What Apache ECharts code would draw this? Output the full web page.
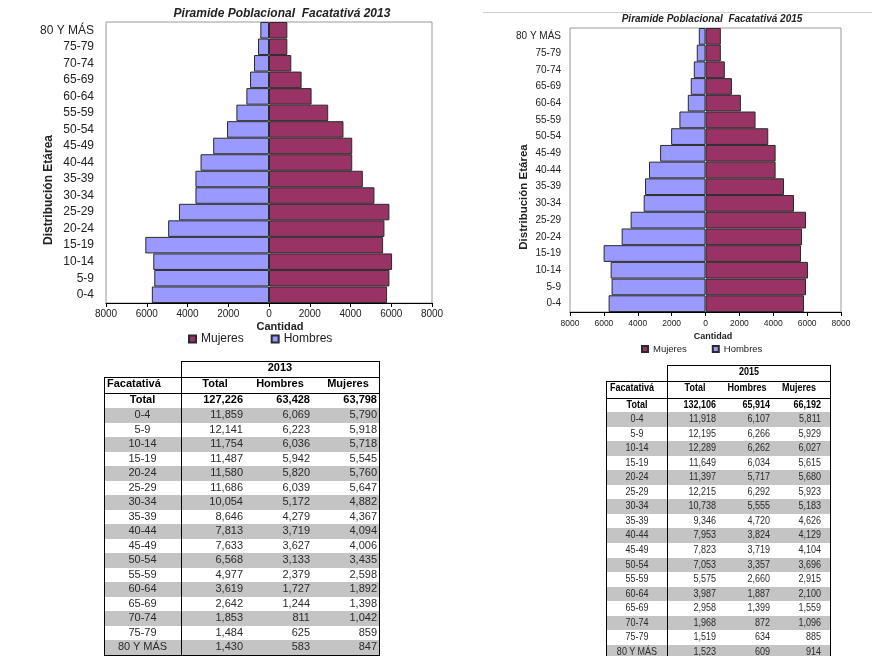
<!DOCTYPE html>
<html>
<head>
<meta charset="utf-8">
<script src="https://cdn.jsdelivr.net/npm/echarts@6/dist/echarts.min.js"></script>
<style>
  html, body { margin: 0; padding: 0; background: #fff; }
  #wrap { position: relative; width: 872px; height: 656px; overflow: hidden; }
  #chart { position: absolute; left: 0; top: 0; width: 872px; height: 656px; }
  #tables { position: absolute; left: 0; top: 0; width: 872px; height: 656px; }
  .t { position: absolute; white-space: nowrap; }
  .ln { position: absolute; background: #000; }
  .gr { position: absolute; background: #c4c4c4; }
</style>
</head>
<body>
<div id="wrap">
  <div id="chart"></div>
  <div id="tables"></div>
</div>
<script>
// ---------- Data ----------
const categories = ['0-4','5-9','10-14','15-19','20-24','25-29','30-34','35-39','40-44','45-49','50-54','55-59','60-64','65-69','70-74','75-79','80 Y MÁS'];

// Pyramid bar values
const hombres2013 = [5750, 5630, 5680, 6070, 4950, 4420, 3610, 3610, 3360, 2740, 2060, 1600, 1110, 930, 735, 540, 425];
const mujeres2013 = [5795, 5910, 6040, 5600, 5665, 5910, 5175, 4605, 4085, 4085, 3655, 2905, 2090, 1600, 1095, 900, 900];
const hombres2015 = [5720, 5545, 5600, 6015, 4950, 4420, 3650, 3570, 3335, 2680, 2030, 1540, 1045, 870, 690, 515, 395];
const mujeres2015 = [5815, 5935, 6050, 5640, 5700, 5935, 5225, 4635, 4140, 4140, 3705, 2955, 2090, 1560, 1140, 905, 905];

const axisTicks = [-8000, -6000, -4000, -2000, 0, 2000, 4000, 6000, 8000];

// Table values
const tablaHeader = ['Facatativá', 'Total', 'Hombres', 'Mujeres'];
const totales2013 = [127226, 63428, 63798];
const total2013 = [11859, 12141, 11754, 11487, 11580, 11686, 10054, 8646, 7813, 7633, 6568, 4977, 3619, 2642, 1853, 1484, 1430];
const tabHombres2013 = [6069, 6223, 6036, 5942, 5820, 6039, 5172, 4279, 3719, 3627, 3133, 2379, 1727, 1244, 811, 625, 583];
const tabMujeres2013 = [5790, 5918, 5718, 5545, 5760, 5647, 4882, 4367, 4094, 4006, 3435, 2598, 1892, 1398, 1042, 859, 847];
const totales2015 = [132106, 65914, 66192];
const total2015 = [11918, 12195, 12289, 11649, 11397, 12215, 10738, 9346, 7953, 7823, 7053, 5575, 3987, 2958, 1968, 1519, 1523];
const tabHombres2015 = [6107, 6266, 6262, 6034, 5717, 6292, 5555, 4720, 3824, 3719, 3357, 2660, 1887, 1399, 872, 634, 609];
const tabMujeres2015 = [5811, 5929, 6027, 5615, 5680, 5923, 5183, 4626, 4129, 4104, 3696, 2915, 2100, 1559, 1096, 885, 914];

// ---------- Chart ----------
const FONT = '"Liberation Sans", Arial, sans-serif';
const cMuj = '#993366', cHom = '#9999FF';

function xAx(gi, fs, margin) {
  return {
    gridIndex: gi, type: 'value', min: axisTicks[0], max: axisTicks[axisTicks.length - 1], interval: 2000,
    axisLine: { show: true, onZero: false, lineStyle: { color: '#000', width: 1 } },
    axisTick: { show: true, length: 4, lineStyle: { color: '#000' } },
    axisLabel: { formatter: v => String(Math.abs(v)), fontSize: fs, color: '#222', margin: margin, fontFamily: FONT },
    splitLine: { show: false }
  };
}
function yAx(gi, fs, margin) {
  return {
    gridIndex: gi, type: 'category', data: categories,
    axisLine: { show: false }, axisTick: { show: false },
    axisLabel: { fontSize: fs, color: '#222', margin: margin, fontFamily: FONT },
    splitLine: { show: false }
  };
}
function barSeries(name, data, color, gi, stack, negate) {
  return {
    name: name, type: 'bar', xAxisIndex: gi, yAxisIndex: gi, stack: stack,
    data: negate ? data.map(v => -v) : data,
    barCategoryGap: '0%',
    itemStyle: { color: color, borderColor: '#2a2a2a', borderWidth: 1 },
    emphasis: { disabled: true }, animation: false
  };
}

const chart = echarts.init(document.getElementById('chart'), null, { renderer: 'canvas' });
chart.setOption({
  backgroundColor: '#fff',
  animation: false,
  textStyle: { fontFamily: FONT },
  title: [
    { text: 'Piramide Poblacional  Facatativá 2013', left: 282, top: 8, textAlign: 'center', padding: 0,
      textStyle: { fontSize: 12, fontStyle: 'italic', fontWeight: 'bold', color: '#222', fontFamily: FONT } },
    { text: 'Piramide Poblacional  Facatativá 2015', left: 712, top: 14, textAlign: 'center', padding: 0,
      textStyle: { fontSize: 10, fontStyle: 'italic', fontWeight: 'bold', color: '#222', fontFamily: FONT } }
  ],
  legend: [
    { data: ['Mujeres', 'Hombres'], left: 188, top: 333, padding: 0, icon: 'rect', itemWidth: 7, itemHeight: 7, itemGap: 27,
      textStyle: { fontSize: 12, color: '#222', fontFamily: FONT }, selectedMode: false },
    { data: ['Mujeres', 'Hombres'], left: 641, top: 344, padding: 0, icon: 'rect', itemWidth: 6, itemHeight: 6, itemGap: 25,
      textStyle: { fontSize: 9.5, color: '#222', fontFamily: FONT }, selectedMode: false }
  ],
  grid: [
    { left: 106, top: 22, width: 326, height: 281, show: true, borderColor: '#999', borderWidth: 1, backgroundColor: '#fff' },
    { left: 570, top: 28, width: 271, height: 284, show: true, borderColor: '#999', borderWidth: 1, backgroundColor: '#fff' }
  ],
  xAxis: [xAx(0, 10, 6), xAx(1, 8.5, 7)],
  yAxis: [yAx(0, 12, 12), yAx(1, 10, 9)],
  series: [
    barSeries('Hombres', hombres2013, cHom, 0, 'p2013', true),
    barSeries('Mujeres', mujeres2013, cMuj, 0, 'p2013', false),
    barSeries('Hombres', hombres2015, cHom, 1, 'p2015', true),
    barSeries('Mujeres', mujeres2015, cMuj, 1, 'p2015', false)
  ],
  graphic: [
    { type: 'text', x: 49, y: 190, rotation: Math.PI / 2,
      style: { text: 'Distribución Etárea', font: 'bold 12px "Liberation Sans", Arial, sans-serif', fill: '#222',
               align: 'center', verticalAlign: 'middle', textAlign: 'center', textVerticalAlign: 'middle' } },
    { type: 'text', x: 524, y: 197, rotation: Math.PI / 2,
      style: { text: 'Distribución Etárea', font: 'bold 11.5px "Liberation Sans", Arial, sans-serif', fill: '#222',
               align: 'center', verticalAlign: 'middle', textAlign: 'center', textVerticalAlign: 'middle' } },
    { type: 'text', x: 280, y: 327,
      style: { text: 'Cantidad', font: 'bold 11px "Liberation Sans", Arial, sans-serif', fill: '#222',
               align: 'center', verticalAlign: 'middle', textAlign: 'center', textVerticalAlign: 'middle' } },
    { type: 'text', x: 713, y: 337,
      style: { text: 'Cantidad', font: 'bold 9px "Liberation Sans", Arial, sans-serif', fill: '#222',
               align: 'center', verticalAlign: 'middle', textAlign: 'center', textVerticalAlign: 'middle' } },
    { type: 'line', shape: { x1: 483, y1: 12.5, x2: 872, y2: 12.5 }, style: { stroke: '#cfcfcf', lineWidth: 1 } }
  ]
});

// ---------- Tables ----------
const root = document.getElementById('tables');
const fmt = v => v.toLocaleString('en-US');

function line(x, y, w, h) {
  const d = document.createElement('div'); d.className = 'ln';
  Object.assign(d.style, { left: x + 'px', top: y + 'px', width: w + 'px', height: h + 'px' });
  root.appendChild(d);
}
function rect(x, y, w, h) {
  const d = document.createElement('div'); d.className = 'gr';
  Object.assign(d.style, { left: x + 'px', top: y + 'px', width: w + 'px', height: h + 'px' });
  root.appendChild(d);
}
function text(txt, x, y, h, align, css, sx) {
  const d = document.createElement('div'); d.className = 't'; d.textContent = txt;
  const s = { top: y + 'px', height: h + 'px', lineHeight: h + 'px' };
  if (align === 'right') { s.left = (x - 120) + 'px'; s.width = '120px'; s.textAlign = 'right'; s.transformOrigin = '100% 50%'; }
  else if (align === 'center') { s.left = (x - 60) + 'px'; s.width = '120px'; s.textAlign = 'center'; s.transformOrigin = '50% 50%'; }
  else { s.left = x + 'px'; s.transformOrigin = '0 50%'; }
  if (sx && sx !== 1) s.transform = 'scaleX(' + sx + ')';
  Object.assign(d.style, s, css);
  root.appendChild(d);
}

function buildTable(c) {
  const bottom = c.dataTop + categories.length * c.rowH;
  for (let i = 0; i < categories.length; i += 2) rect(c.left, c.dataTop + i * c.rowH, c.right - c.left, c.rowH);
  line(c.divX, c.yearTop, c.right - c.divX + 1, 1);
  line(c.left, c.headTop, c.right - c.left + 1, 1);
  line(c.left, c.totalTop, c.right - c.left + 1, 1);
  line(c.left, bottom, c.right - c.left + 1, 1);
  line(c.left, c.headTop, 1, bottom - c.headTop);
  line(c.divX, c.yearTop, 1, bottom - c.yearTop);
  line(c.right, c.yearTop, 1, bottom - c.yearTop + 1);

  const sx = c.scaleX || 1;
  const bold = { font: c.boldFont, color: '#000' };
  const reg = { font: c.font, color: '#2b2b2b' };
  text(c.year, (c.divX + c.right) / 2, c.yearTop, c.headTop - c.yearTop, 'center', bold, sx);
  text(tablaHeader[0], c.facLeft, c.headTop, c.totalTop - c.headTop, 'left', bold, sx);
  for (let k = 0; k < 3; k++) text(tablaHeader[k + 1], c.headCenters[k], c.headTop, c.totalTop - c.headTop, 'center', bold, sx);
  const labC = (c.left + c.divX) / 2;
  text('Total', labC, c.totalTop, c.dataTop - c.totalTop, 'center', bold, sx);
  for (let k = 0; k < 3; k++) text(fmt(c.totals[k]), c.colRights[k], c.totalTop, c.dataTop - c.totalTop, 'right', bold, sx);
  const cols = [c.tot, c.hom, c.muj];
  categories.forEach((cat, i) => {
    const y = c.dataTop + i * c.rowH;
    text(cat, labC, y, c.rowH, 'center', reg, sx);
    for (let k = 0; k < 3; k++) text(fmt(cols[k][i]), c.colRights[k], y, c.rowH, 'right', reg, sx);
  });
}

buildTable({
  year: '2013', left: 104, divX: 181, right: 379,
  yearTop: 361, headTop: 377, totalTop: 393, dataTop: 408, rowH: 14.5,
  facLeft: 107, headCenters: [215, 280, 348], colRights: [243, 310, 377],
  font: '11px "Liberation Sans", Arial, sans-serif', boldFont: 'bold 11px "Liberation Sans", Arial, sans-serif',
  totals: totales2013, tot: total2013, hom: tabHombres2013, muj: tabMujeres2013
});
buildTable({
  year: '2015', left: 606, divX: 667, right: 830,
  yearTop: 365, headTop: 381, totalTop: 398, dataTop: 412, rowH: 14.55,
  facLeft: 610, headCenters: [695, 747, 799], colRights: [716, 770, 821],
  font: '11px "Liberation Sans", Arial, sans-serif', boldFont: 'bold 11px "Liberation Sans", Arial, sans-serif',
  scaleX: 0.82,
  totals: totales2015, tot: total2015, hom: tabHombres2015, muj: tabMujeres2015
});
</script>
</body>
</html>
